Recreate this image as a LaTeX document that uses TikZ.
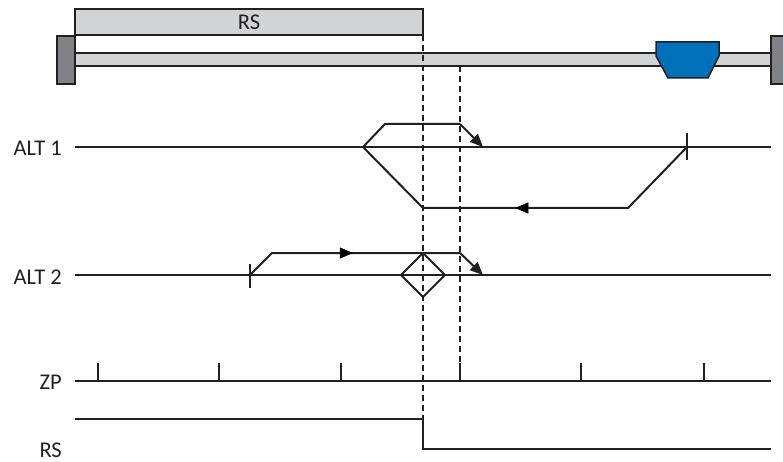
\documentclass[tikz,border=0pt]{standalone}
\usepackage{fontspec}
\setmainfont{Carlito}
\usetikzlibrary{arrows.meta,decorations.markings}
\definecolor{ink}{HTML}{231F20}
\definecolor{barfill}{HTML}{D1D3D4}
\definecolor{blockfill}{HTML}{808285}
\definecolor{carblue}{HTML}{0070BA}
\tikzset{
  thinline/.style={draw=ink,line width=1.3pt},
  pathline/.style={draw=ink,line width=2pt,line join=miter},
  dashline/.style={draw=ink,line width=1.2pt,dash pattern=on 6pt off 4pt},
  tip/.style={-{Triangle[length=13pt,width=11pt]}},
  midtip/.style={postaction={decorate},decoration={markings,mark=at position #1 with {\arrow{Triangle[length=13pt,width=11pt]}}}},
  lbl/.style={font=\fontsize{22.5}{26}\selectfont,text=ink,inner sep=0pt,anchor=east},
  box/.style={draw=ink,line width=1.5pt}
}
\begin{document}
\begin{tikzpicture}[x=1pt,y=-1pt]
\useasboundingbox (0,0) rectangle (783,462);
\clip (0,0) rectangle (783,462);
% top mechanics
\path[box,fill=barfill] (75,9) rectangle (423,35);
\node[font=\fontsize{22.5}{26}\selectfont,text=ink,inner sep=0pt] (rslbl) at (249,22) {RS};
\path[box,fill=barfill] (75,53) rectangle (771,66);
\path[box,fill=blockfill] (57,36) rectangle (75,84);
\path[box,fill=blockfill] (771,36) rectangle (795,84);
\path[box,fill=carblue] (656,42) -- (719,42) -- (719,56) -- (708,78) -- (668,78) -- (656,56) -- cycle;
% labels
\node[lbl] (l1) at (62,148) {ALT 1};
\node[lbl] (l2) at (62,277) {ALT 2};
\node[lbl] (l3) at (62,382) {ZP};
\node[lbl] (l4) at (62,450) {RS};
% axis lines
\coordinate (a1s) at (75,147); \coordinate (a1e) at (771,147);
\coordinate (a2s) at (75,275); \coordinate (a2e) at (771,275);
\coordinate (zs) at (75,381); \coordinate (ze) at (771,381);
\draw[thinline] (a1s) -- (a1e);
\draw[thinline] (a2s) -- (a2e);
\draw[thinline] (zs) -- (ze);
% ZP ticks
\foreach \x in {98,219,341,460,581,704} \draw[thinline] (\x,363) -- (\x,381);
% dashed lines
\coordinate (d1t) at (423,35); \coordinate (d1b) at (423,419);
\coordinate (d2t) at (460,66); \coordinate (d2b) at (460,363);
\draw[dashline] (d1t) -- (d1b);
\draw[dashline] (d2t) -- (d2b);
% RS signal
\coordinate (r0) at (75,419); \coordinate (r1) at (423,419);
\coordinate (r2) at (423,449); \coordinate (r3) at (771,449);
\draw[pathline] (r0) -- (r1) -- (r2) -- (r3);
% ALT 1
\coordinate (p1) at (687,147);
\draw[thinline] (687,133) -- (687,160);
\coordinate (p2) at (628,208); \coordinate (p3) at (423,208);
\coordinate (p4) at (363,147); \coordinate (p5) at (385,124);
\coordinate (p6) at (460,124); \coordinate (p7) at (483,147);
\draw[pathline] (p1) -- (p2) -- (p3) -- (p4) -- (p5) -- (p6);
\path[midtip=0.55] (p2) -- (p3);
\draw[pathline,tip] (p6) -- (p7);
% ALT 2
\coordinate (q1) at (250,275);
\draw[thinline] (250,264) -- (250,288);
\coordinate (q2) at (272,253); \coordinate (q3) at (460,253); \coordinate (q4) at (483,275);
\draw[pathline] (q1) -- (q2) -- (q3);
\path[midtip=0.43] (q2) -- (q3);
\draw[pathline,tip] (q3) -- (q4);
% diamond
\draw[pathline] (423,253) -- (445,275) -- (423,297) -- (401,275) -- cycle;
\end{tikzpicture}
\end{document}
